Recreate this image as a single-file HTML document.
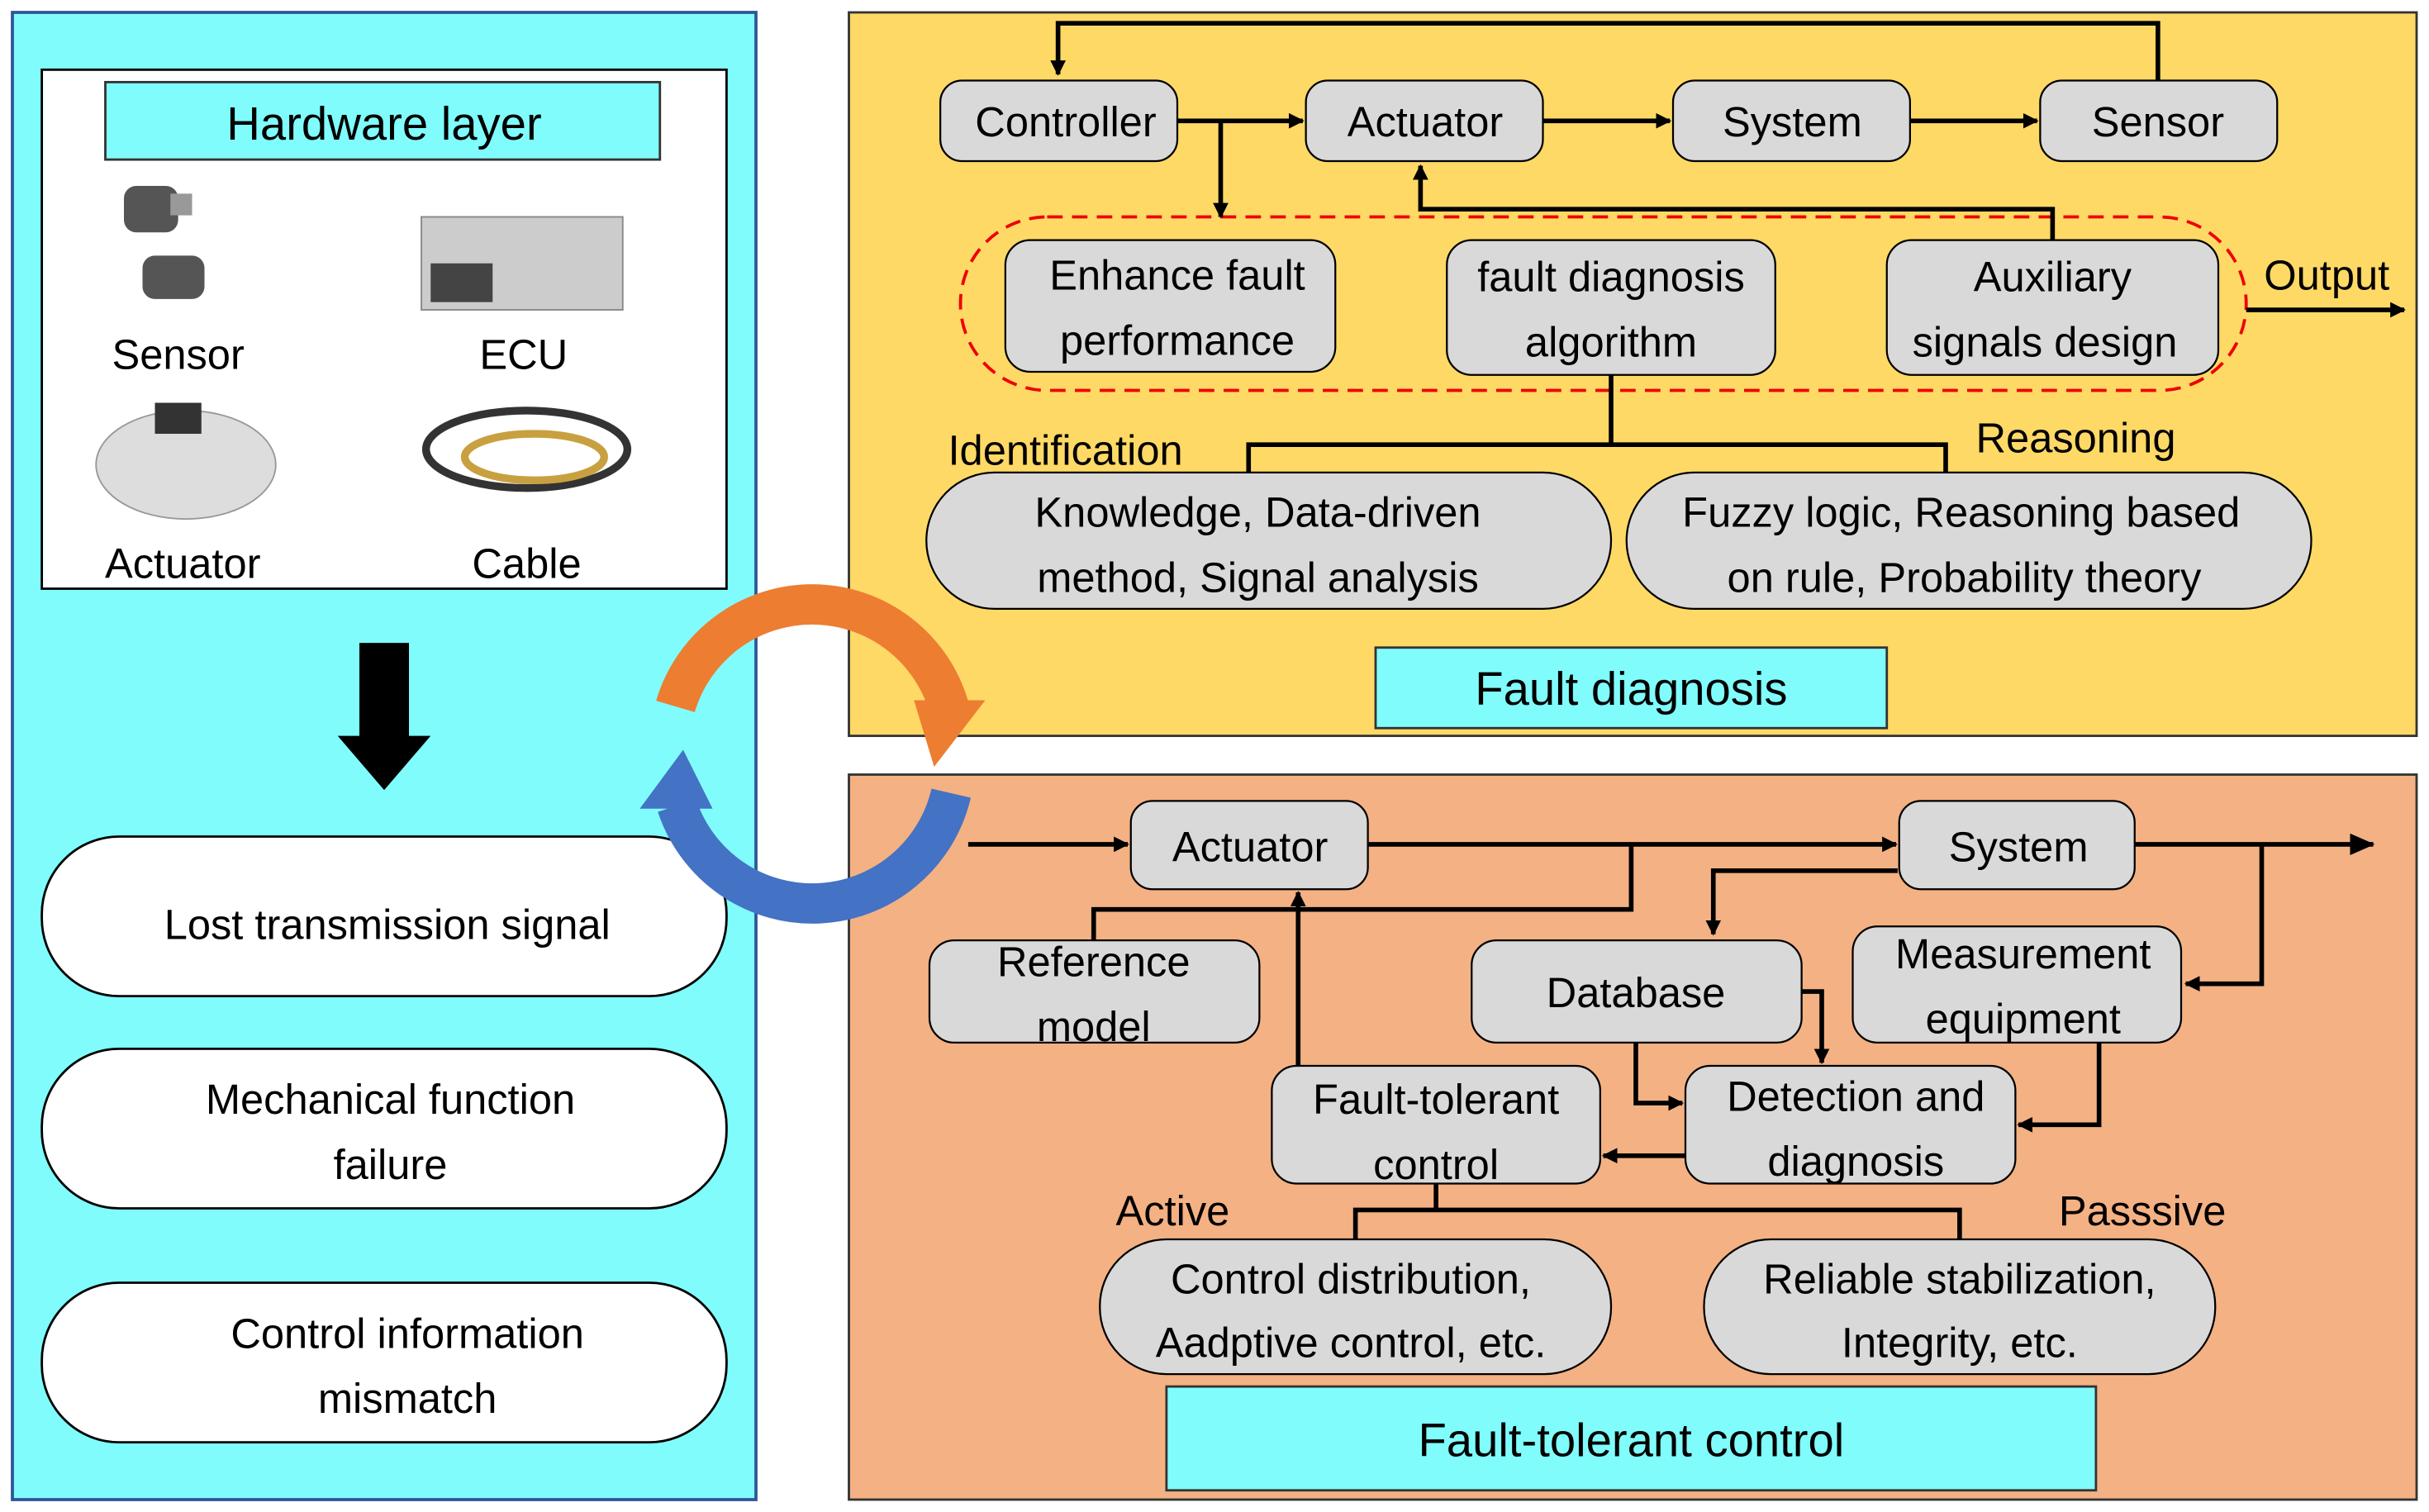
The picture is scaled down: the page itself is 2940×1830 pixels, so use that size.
<!DOCTYPE html>
<html><head><meta charset="utf-8"><style>html,body{margin:0;padding:0;background:#fff}svg{display:block}</style></head>
<body>
<svg width="2940" height="1830" viewBox="0 0 1568 976" xmlns="http://www.w3.org/2000/svg" font-family="Liberation Sans, sans-serif" font-size="27" text-anchor="middle">
<defs>
<marker id="a" markerWidth="10" markerHeight="10" refX="9" refY="5" orient="auto" markerUnits="userSpaceOnUse" viewBox="0 0 10 10"><path d="M0,0 L10,5 L0,10 z" fill="#000"/></marker>
<marker id="b" markerWidth="16" markerHeight="14" refX="15" refY="7" orient="auto" markerUnits="userSpaceOnUse" viewBox="0 0 16 14"><path d="M0,0 L16,7 L0,14 z" fill="#000"/></marker>
</defs>
<rect width="1568" height="976" fill="#fff"/>
<!-- left panel -->
<rect x="8" y="8" width="480" height="960" fill="#80fcfc" stroke="#2f5597" stroke-width="2"/>
<rect x="27" y="45" width="442" height="335" fill="#fff" stroke="#000" stroke-width="1.5"/>
<rect x="68" y="53" width="358" height="50" fill="#80fcfc" stroke="#333" stroke-width="1.5"/>
<text x="248" y="90" font-size="30">Hardware layer</text>
<!-- device pictures approx -->
<g fill="#555"><rect x="80" y="120" width="35" height="30" rx="8"/><rect x="92" y="165" width="40" height="28" rx="8"/><rect x="110" y="125" width="14" height="14" fill="#999"/></g>
<g><rect x="272" y="140" width="130" height="60" fill="#ccc" stroke="#888"/><rect x="278" y="170" width="40" height="25" fill="#444"/></g>
<g><ellipse cx="120" cy="300" rx="58" ry="35" fill="#ddd" stroke="#999"/><rect x="100" y="260" width="30" height="20" fill="#333"/></g>
<g fill="none" stroke="#333" stroke-width="5"><ellipse cx="340" cy="290" rx="65" ry="25"/><ellipse cx="345" cy="295" rx="45" ry="15" stroke="#c8a040"/></g>
<text x="115" y="238">Sensor</text><text x="338" y="238">ECU</text>
<text x="118" y="373">Actuator</text><text x="340" y="373">Cable</text>
<path d="M232,415 H264 V475 H278 L248,510 L218,475 H232 Z" fill="#000"/>
<rect x="27" y="540" width="442" height="103" rx="50" fill="#fff" stroke="#000" stroke-width="1.5"/>
<text x="250" y="606">Lost transmission signal</text>
<rect x="27" y="677" width="442" height="103" rx="50" fill="#fff" stroke="#000" stroke-width="1.5"/>
<text x="252" y="719">Mechanical function</text><text x="252" y="761">failure</text>
<rect x="27" y="828" width="442" height="103" rx="50" fill="#fff" stroke="#000" stroke-width="1.5"/>
<text x="263" y="870">Control information</text><text x="263" y="912">mismatch</text>
<!-- top right panel -->
<rect x="548" y="8" width="1012" height="467" fill="#ffd966" stroke="#333" stroke-width="1.5"/>
<g fill="#d9d9d9" stroke="#000" stroke-width="1.2">
<rect x="607" y="52" width="153" height="52" rx="14"/><rect x="843" y="52" width="153" height="52" rx="14"/>
<rect x="1080" y="52" width="153" height="52" rx="14"/><rect x="1317" y="52" width="153" height="52" rx="14"/>
<rect x="649" y="155" width="213" height="85" rx="16"/><rect x="934" y="155" width="212" height="87" rx="16"/>
<rect x="1218" y="155" width="214" height="87" rx="16"/>
<rect x="598" y="305" width="442" height="88" rx="44"/><rect x="1050" y="305" width="442" height="88" rx="44"/>
</g>
<text x="688" y="88">Controller</text><text x="920" y="88">Actuator</text><text x="1157" y="88">System</text><text x="1393" y="88">Sensor</text>
<rect x="620" y="140" width="830" height="112" rx="56" fill="none" stroke="#e00" stroke-width="2" stroke-dasharray="10,6"/>
<text x="760" y="187">Enhance fault</text><text x="760" y="229">performance</text>
<text x="1040" y="188">fault diagnosis</text><text x="1040" y="230">algorithm</text>
<text x="1325" y="188">Auxiliary</text><text x="1320" y="230">signals design</text>
<g fill="none" stroke="#000" stroke-width="3">
<path d="M1393,52 V15 H683 V48" marker-end="url(#a)"/>
<path d="M760,78 H841" marker-end="url(#a)"/>
<path d="M788,78 V140" marker-end="url(#a)"/>
<path d="M996,78 H1078" marker-end="url(#a)"/>
<path d="M1233,78 H1315" marker-end="url(#a)"/>
<path d="M1325,155 V135 H917 V107" marker-end="url(#a)"/>
<path d="M1450,200 H1552" marker-end="url(#a)"/>
<path d="M1040,242 V287 M806,305 V287 H1256 V305"/>
</g>
<text x="1502" y="187">Output</text>
<text x="612" y="300" text-anchor="start">Identification</text>
<text x="1340" y="292">Reasoning</text>
<text x="812" y="340">Knowledge, Data-driven</text><text x="812" y="382">method, Signal analysis</text>
<text x="1266" y="340">Fuzzy logic, Reasoning based</text><text x="1268" y="382">on rule, Probability theory</text>
<rect x="888" y="418" width="330" height="52" fill="#80fcfc" stroke="#333" stroke-width="1.5"/>
<text x="1053" y="455" font-size="30">Fault diagnosis</text>
<!-- bottom right panel -->
<rect x="548" y="500" width="1012" height="468" fill="#f4b183" stroke="#333" stroke-width="1.5"/>
<g fill="#d9d9d9" stroke="#000" stroke-width="1.2">
<rect x="730" y="517" width="153" height="57" rx="14"/><rect x="1226" y="517" width="152" height="57" rx="14"/>
<rect x="600" y="607" width="213" height="66" rx="16"/><rect x="950" y="607" width="213" height="66" rx="16"/>
<rect x="1196" y="598" width="212" height="75" rx="16"/><rect x="1088" y="688" width="213" height="76" rx="16"/>
<rect x="821" y="688" width="212" height="76" rx="16"/>
<rect x="710" y="800" width="330" height="87" rx="43"/><rect x="1100" y="800" width="330" height="87" rx="43"/>
</g>
<g fill="none" stroke="#000" stroke-width="3">
<path d="M625,545 H728" marker-end="url(#a)"/>
<path d="M883,545 H1224" marker-end="url(#a)"/>
<path d="M1378,545 H1532" marker-end="url(#b)"/>
<path d="M1053,545 V587 H706 V607"/>
<path d="M1460,545 V635 H1411" marker-end="url(#a)"/>
<path d="M1225,562 H1106 V603" marker-end="url(#a)"/>
<path d="M1163,640 H1176 V686" marker-end="url(#a)"/>
<path d="M1056,673 V712 H1086" marker-end="url(#a)"/>
<path d="M1355,673 V726 H1303" marker-end="url(#a)"/>
<path d="M1088,746 H1035" marker-end="url(#a)"/>
<path d="M838,688 V576" marker-end="url(#a)"/>
<path d="M927,764 V781 M875,800 V781 H1265 V800"/>
</g>
<text x="807" y="556">Actuator</text><text x="1303" y="556">System</text>
<text x="706" y="630">Reference</text><text x="706" y="672">model</text>
<text x="1056" y="650">Database</text>
<text x="1306" y="625">Measurement</text><text x="1306" y="667">equipment</text>
<text x="1198" y="717">Detection and</text><text x="1198" y="759">diagnosis</text>
<text x="927" y="719">Fault-tolerant</text><text x="927" y="761">control</text>
<text x="757" y="791">Active</text><text x="1383" y="791">Passsive</text>
<text x="872" y="835">Control distribution,</text><text x="872" y="876">Aadptive control, etc.</text>
<text x="1265" y="835">Reliable stabilization,</text><text x="1265" y="876">Integrity, etc.</text>
<rect x="753" y="895" width="600" height="67" fill="#80fcfc" stroke="#333" stroke-width="1.5"/>
<text x="1053" y="940" font-size="30">Fault-tolerant control</text>
<!-- cycle arrows -->
<path d="M436,456 A92 92 0 0 1 613,458" fill="none" stroke="#ed7d31" stroke-width="26"/>
<path d="M590,452 L636,452 L603,495 Z" fill="#ed7d31"/>
<path d="M614,512 A92 92 0 0 1 437,520" fill="none" stroke="#4472c4" stroke-width="26"/>
<path d="M413,522 L460,522 L441,484 Z" fill="#4472c4"/>
</svg>
</body></html>
